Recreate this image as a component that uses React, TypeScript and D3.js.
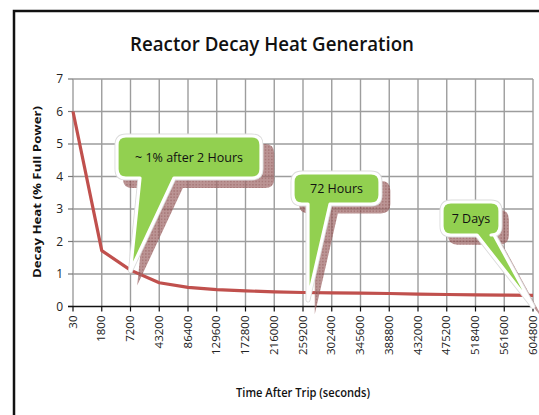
import { useEffect, useRef } from "react";
import * as d3 from "d3";

const categories = [
  "30", "1800", "7200", "43200", "86400", "129600", "172800", "216000", "259200",
  "302400", "345600", "388800", "432000", "475200", "518400", "561600", "604800",
];
const decayHeat = [6.0, 1.72, 1.12, 0.73, 0.59, 0.52, 0.48, 0.45, 0.43, 0.42, 0.41, 0.4, 0.38, 0.37, 0.36, 0.35, 0.34];
const yTicks = [0, 1, 2, 3, 4, 5, 6, 7];

// callout text, target category / value the pointer reaches
const calloutLabels = ["~ 1% after 2 Hours", "72 Hours", "7 Days"];
const calloutTargets = ["7200", "259200", "604800"];
const calloutValues = [1.1, 0.2, 0];

const W = 539;
const H = 415;
const font = "'Open Sans', 'Liberation Sans', sans-serif";

// rounded box with a pointer leaving its bottom edge
const calloutPath = (x0, y0, x1, y1, r, bx0, bx1, tx, ty) =>
  `M${x0 + r},${y0} H${x1 - r} Q${x1},${y0} ${x1},${y0 + r} V${y1 - r} Q${x1},${y1} ${x1 - r},${y1} ` +
  `H${bx1} L${tx},${ty} L${bx0},${y1} H${x0 + r} Q${x0},${y1} ${x0},${y1 - r} V${y0 + r} Q${x0},${y0} ${x0 + r},${y0} Z`;

export default function App() {
  const ref = useRef(null);

  useEffect(() => {
    const svg = d3.select(ref.current);
    svg.selectAll("*").remove();

    const left = 73;
    const right = 533;
    const top = 79;
    const bottom = 306.5;

    const x = d3.scalePoint().domain(categories).range([left, right]);
    const y = d3.scaleLinear().domain([0, 7]).range([bottom, top]);

    const defs = svg.append("defs");
    const pat = defs
      .append("pattern")
      .attr("id", "hatch")
      .attr("width", 3)
      .attr("height", 3)
      .attr("patternUnits", "userSpaceOnUse");
    pat.append("rect").attr("width", 3).attr("height", 3).attr("fill", "#a06a6a");
    pat.append("rect").attr("width", 1.5).attr("height", 1.5).attr("fill", "#884848");

    svg.append("rect").attr("width", W).attr("height", H).attr("fill", "#fff");

    // chart frame
    svg
      .append("rect")
      .attr("x", 14)
      .attr("y", 11)
      .attr("width", 600)
      .attr("height", 500)
      .attr("fill", "#fff")
      .attr("stroke", "#111")
      .attr("stroke-width", 2.5);

    svg
      .append("text")
      .attr("x", 272)
      .attr("y", 51)
      .attr("text-anchor", "middle")
      .attr("font-family", font)
      .attr("font-size", 19)
      .attr("font-weight", 600)
      .attr("textLength", 284)
      .attr("lengthAdjust", "spacingAndGlyphs")
      .attr("fill", "#111")
      .text("Reactor Decay Heat Generation");

    // grid
    svg
      .selectAll("line.hgrid")
      .data(yTicks.slice(1))
      .join("line")
      .attr("class", "hgrid")
      .attr("x1", left)
      .attr("x2", right)
      .attr("y1", (d) => y(d))
      .attr("y2", (d) => y(d))
      .attr("stroke", "#9d9d9d")
      .attr("stroke-width", 1.4);

    svg
      .selectAll("line.vgrid")
      .data(categories)
      .join("line")
      .attr("class", "vgrid")
      .attr("x1", (d) => x(d))
      .attr("x2", (d) => x(d))
      .attr("y1", top)
      .attr("y2", bottom)
      .attr("stroke", "#9d9d9d")
      .attr("stroke-width", 1.4);

    // y ticks and labels
    svg
      .selectAll("line.ytick")
      .data(yTicks)
      .join("line")
      .attr("class", "ytick")
      .attr("x1", left - 5)
      .attr("x2", left)
      .attr("y1", (d) => y(d))
      .attr("y2", (d) => y(d))
      .attr("stroke", "#777")
      .attr("stroke-width", 1.2);

    svg
      .selectAll("text.ylab")
      .data(yTicks)
      .join("text")
      .attr("class", "ylab")
      .attr("x", left - 10)
      .attr("y", (d) => y(d) + 4)
      .attr("text-anchor", "end")
      .attr("font-family", font)
      .attr("font-size", 12)
      .attr("fill", "#222")
      .text((d) => d);

    // x axis
    svg
      .append("line")
      .attr("x1", left - 5)
      .attr("x2", right)
      .attr("y1", bottom)
      .attr("y2", bottom)
      .attr("stroke", "#111")
      .attr("stroke-width", 1.3);

    svg
      .selectAll("line.xtick")
      .data(categories)
      .join("line")
      .attr("class", "xtick")
      .attr("x1", (d) => x(d))
      .attr("x2", (d) => x(d))
      .attr("y1", bottom)
      .attr("y2", bottom + 5)
      .attr("stroke", "#111")
      .attr("stroke-width", 1.2);

    svg
      .selectAll("text.xlab")
      .data(categories)
      .join("text")
      .attr("class", "xlab")
      .attr("transform", (d) => `translate(${x(d) + 3.5},${bottom + 9}) rotate(-90)`)
      .attr("text-anchor", "end")
      .attr("font-family", font)
      .attr("font-size", 11.5)
      .attr("fill", "#222")
      .text((d) => d);

    svg
      .append("text")
      .attr("transform", "translate(41,192) rotate(-90)")
      .attr("text-anchor", "middle")
      .attr("font-family", font)
      .attr("font-size", 11)
      .attr("font-weight", 700)
      .attr("textLength", 172)
      .attr("lengthAdjust", "spacingAndGlyphs")
      .attr("fill", "#111")
      .text("Decay Heat (% Full Power)");

    svg
      .append("text")
      .attr("x", 303)
      .attr("y", 397)
      .attr("text-anchor", "middle")
      .attr("font-family", font)
      .attr("font-size", 12.5)
      .attr("font-weight", 600)
      .attr("textLength", 134)
      .attr("lengthAdjust", "spacingAndGlyphs")
      .attr("fill", "#111")
      .text("Time After Trip (seconds)");

    // decay heat curve
    const line = d3
      .line()
      .x((_, i) => x(categories[i]))
      .y((d) => y(d));

    svg
      .append("path")
      .datum(decayHeat)
      .attr("d", line)
      .attr("fill", "none")
      .attr("stroke", "#c0504d")
      .attr("stroke-width", 3.2)
      .attr("stroke-linejoin", "round");

    // callouts: box geometry in pixels, tips placed through the scales
    const boxes = [
      { x0: 117, y0: 136, x1: 261, y1: 178, bx0: 140, bx1: 174, tdx: 0 },
      { x0: 293, y0: 173, x1: 380, y1: 204, bx0: 308, bx1: 330, tdx: 5 },
      { x0: 442, y0: 202, x1: 500, y1: 235, bx0: 477, bx1: 494, tdx: 0 },
    ];

    boxes.forEach((b, i) => {
      const tx = x(calloutTargets[i]) + b.tdx;
      const ty = y(calloutValues[i]);
      const d = calloutPath(b.x0, b.y0, b.x1, b.y1, 9, b.bx0, b.bx1, tx, ty);
      const sx = 1.05;
      svg
        .append("path")
        .attr("d", d)
        .attr(
          "transform",
          `translate(${b.x0 + 6},${b.y0 + 8}) scale(${sx}) translate(${-b.x0},${-b.y0})`
        )
        .attr("fill", "url(#hatch)")
        .attr("opacity", 0.72);
    });

    boxes.forEach((b, i) => {
      const tx = x(calloutTargets[i]) + b.tdx;
      const ty = y(calloutValues[i]);
      const d = calloutPath(b.x0, b.y0, b.x1, b.y1, 9, b.bx0, b.bx1, tx, ty);
      svg
        .append("path")
        .attr("d", d)
        .attr("fill", "#92d050")
        .attr("stroke", "#dcdcdc")
        .attr("stroke-width", 5)
        .attr("stroke-linejoin", "round");
      svg
        .append("path")
        .attr("d", d)
        .attr("fill", "#92d050")
        .attr("stroke", "#fff")
        .attr("stroke-width", 3.2)
        .attr("stroke-linejoin", "round");
      svg
        .append("text")
        .attr("x", (b.x0 + b.x1) / 2)
        .attr("y", (b.y0 + b.y1) / 2 + 4.5)
        .attr("text-anchor", "middle")
        .attr("font-family", font)
        .attr("font-size", 12.5)
        .attr("fill", "#111")
        .text(calloutLabels[i]);
    });
  }, []);

  return (
    <svg
      ref={ref}
      width={W}
      height={H}
      style={{ position: "absolute", left: 0, top: 0, display: "block" }}
    />
  );
}
